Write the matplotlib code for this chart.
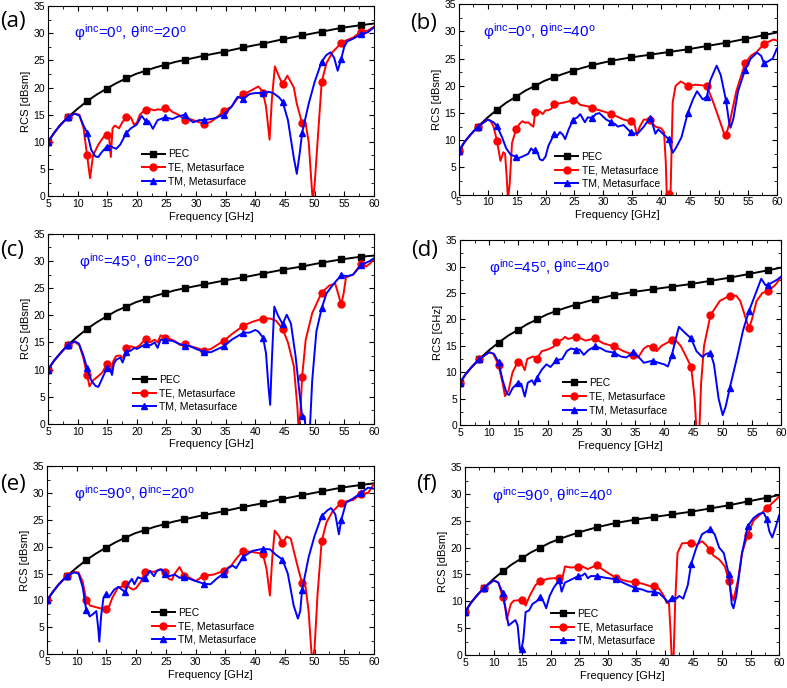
import matplotlib
matplotlib.use("Agg")
import matplotlib.pyplot as plt
import numpy as np

plt.rcParams['font.family'] = ['Liberation Sans', 'DejaVu Sans']
plt.rcParams['mathtext.fontset'] = 'custom'
plt.rcParams['mathtext.rm'] = 'Liberation Sans'
plt.rcParams['mathtext.it'] = 'Liberation Sans:italic'

# frequencies where the symbols sit (every 3.3 GHz)
f_mark = [5, 8.3, 11.6, 14.9, 18.2, 21.5, 24.8, 28.1, 31.4, 34.7, 38.0, 41.3,
          44.6, 47.9, 51.2, 54.5, 57.8]

# ---- PEC references (freq GHz, RCS dBsm)
pec_20 = [(5, 10.0), (6, 11.6), (7, 13.0), (8.3, 14.5), (10, 16.1), (11.6, 17.5), (13.2, 18.7),
          (14.9, 19.8), (16.5, 20.8), (18.2, 21.7), (19.8, 22.5), (21.5, 23.1), (23.1, 23.7),
          (24.8, 24.2), (26.4, 24.7), (28.1, 25.1), (31.4, 25.9), (34.7, 26.6), (38.0, 27.4),
          (41.3, 28.1), (44.6, 28.9), (47.9, 29.6), (51.2, 30.3), (54.5, 31.0), (57.8, 31.5), (60, 31.8)]
pec_c = [(5, 10.0), (6, 11.6), (7, 12.9), (8.3, 14.5), (10, 16.1), (11.6, 17.5), (13.2, 18.7),
         (14.9, 19.8), (16.5, 20.8), (18.2, 21.6), (19.8, 22.4), (21.5, 23.0), (23.1, 23.6),
         (24.8, 24.1), (26.4, 24.6), (28.1, 25.0), (31.4, 25.7), (34.7, 26.4), (38.0, 27.0),
         (41.3, 27.7), (44.6, 28.4), (47.9, 29.0), (51.2, 29.7), (54.5, 30.3), (57.8, 30.8), (60, 31.0)]
pec_40 = [(5, 8.0), (6, 9.7), (7, 11.0), (8.3, 12.5), (10, 14.2), (11.6, 15.6), (13.2, 16.9),
          (14.9, 18.0), (16.5, 19.1), (18.2, 20.0), (19.8, 20.9), (21.5, 21.6), (23.1, 22.2),
          (24.8, 22.8), (26.4, 23.3), (28.1, 23.8), (31.4, 24.6), (34.7, 25.2), (38.0, 25.7),
          (41.3, 26.2), (44.6, 26.7), (47.9, 27.3), (51.2, 27.9), (54.5, 28.6), (57.8, 29.3), (60, 29.8)]

# ---- (a) phi=0, theta=20
te_a = [(5, 10.0), (6, 11.6), (7, 13.0), (8.3, 14.5), (9.5, 15.2), (10.3, 15.0), (11.0, 12.5), (11.6, 7.5),
        (12.1, 3.3), (12.6, 7.5), (13.5, 9.5), (14.3, 10.8), (14.9, 11.3), (15.3, 11.0), (15.6, 7.2),
        (15.9, 12.5), (16.3, 13.0), (17.0, 12.5), (17.5, 13.5), (18.2, 14.6), (19.0, 14.5), (19.5, 13.2),
        (20.0, 13.5), (20.5, 15.0), (21.0, 15.5), (21.5, 15.9), (22.0, 16.1), (23.0, 15.8), (23.5, 16.0),
        (24.0, 15.9), (24.8, 16.2), (25.5, 16.0), (26.0, 15.5), (27.0, 15.0), (28.1, 14.0), (29.0, 14.2),
        (30.0, 13.8), (31.4, 13.3), (32.5, 13.7), (33.5, 14.5), (34.7, 15.7), (36.0, 16.5), (37.0, 18.0),
        (38.0, 18.8), (39.0, 19.3), (40.5, 20.2), (41.0, 19.6), (41.3, 19.0), (41.8, 16.5), (42.4, 10.4),
        (42.8, 18.0), (43.3, 23.9), (44.0, 22.0), (44.6, 20.6), (45.4, 22.2), (46.5, 20.0), (47.0, 17.0),
        (47.9, 13.4), (48.5, 13.3), (49.0, 10.0), (49.5, 2.0), (49.7, -1.0), (50.0, 2.0), (50.5, 10.0),
        (51.2, 21.0), (52.0, 24.5), (53.0, 26.5), (54.5, 28.2), (55.5, 28.8), (56.5, 29.2), (57.8, 30.3),
        (59.0, 30.5), (60, 31.2)]
tm_a = [(5, 10.0), (6, 11.6), (7, 13.0), (8.3, 14.5), (9.5, 15.2), (10.3, 14.8), (11.0, 13.0), (11.6, 11.7),
        (12.3, 8.5), (13.0, 7.3), (13.5, 7.2), (14.0, 8.0), (14.9, 9.1), (15.5, 9.2), (16.5, 8.7), (17.2, 9.5),
        (18.2, 11.6), (19.0, 12.5), (20.0, 13.2), (20.8, 14.8), (21.5, 13.8), (22.0, 13.8), (22.7, 12.4),
        (23.5, 14.0), (24.8, 14.5), (26.0, 14.2), (27.0, 14.7), (28.1, 15.0), (29.0, 14.0), (29.5, 13.6),
        (30.5, 14.0), (31.4, 14.0), (33.0, 14.3), (34.7, 15.0), (36.0, 16.5), (37.0, 18.3), (38.0, 17.9),
        (39.0, 18.8), (40.0, 19.0), (41.3, 19.0), (42.3, 19.2), (43.0, 19.0), (44.0, 18.2), (44.6, 17.4),
        (45.5, 14.0), (46.5, 7.0), (47.0, 4.1), (47.5, 8.0), (47.9, 11.7), (49.0, 17.0), (50.0, 21.0),
        (51.2, 24.8), (52.0, 26.0), (52.7, 26.5), (53.3, 25.5), (53.9, 23.1), (54.5, 25.3), (55.0, 27.5),
        (55.5, 28.5), (56.5, 29.0), (57.8, 29.8), (59.0, 30.2), (60, 31.1)]

# ---- (b) phi=0, theta=40
te_b = [(5, 8.0), (6, 9.7), (7, 11.0), (8.3, 12.5), (10, 13.8), (10.5, 13.6), (11.0, 12.5), (11.6, 9.9),
        (12.2, 6.2), (12.7, 7.8), (13.0, 7.5), (13.3, 3.0), (13.5, -1.0), (13.8, 2.0), (14.2, 9.5),
        (14.9, 12.0), (15.5, 13.0), (16.0, 13.5), (16.5, 13.2), (17.0, 13.3), (17.5, 12.8), (17.9, 12.5),
        (18.2, 15.1), (19.0, 15.3), (19.5, 14.8), (20.0, 15.5), (20.5, 15.5), (21.0, 15.8), (21.5, 16.7),
        (22.5, 16.8), (23.5, 17.0), (24.8, 17.4), (25.5, 17.0), (26.0, 16.5), (27.0, 16.3), (28.1, 16.0),
        (29.0, 15.6), (30.0, 15.3), (31.4, 14.8), (32.5, 14.3), (33.5, 13.8), (34.7, 13.5), (35.3, 13.5),
        (35.8, 10.9), (36.3, 12.5), (37.0, 13.8), (38.0, 13.8), (39.0, 12.5), (40.0, 12.2), (40.5, 11.5),
        (40.8, 6.0), (41.0, -1.0), (41.3, 0.2), (41.6, -1.0), (41.8, 8.0), (42.0, 17.0), (42.5, 20.0),
        (43.4, 20.8), (44.6, 20.0), (46.0, 20.2), (47.9, 20.0), (49.0, 17.0), (50.0, 14.0), (50.8, 11.5),
        (51.2, 11.0), (51.8, 13.0), (53.0, 19.0), (54.5, 24.1), (55.5, 25.5), (56.5, 26.2), (57.8, 27.7),
        (59.0, 28.3), (59.5, 28.5), (60, 28.3)]
tm_b = [(5, 8.0), (6, 9.7), (7, 11.0), (8.3, 12.5), (10, 13.8), (11.0, 13.3), (11.6, 12.6), (12.5, 10.5),
        (13.2, 8.5), (14.0, 7.3), (14.9, 7.0), (15.3, 6.7), (16.0, 7.0), (17.0, 7.5), (17.5, 8.5), (18.0, 8.0),
        (18.2, 8.2), (18.7, 7.5), (19.0, 6.5), (19.5, 6.3), (20.0, 7.0), (20.5, 9.0), (21.5, 11.1),
        (22.0, 10.8), (22.5, 11.5), (23.0, 11.0), (23.4, 10.2), (24.0, 12.0), (24.8, 13.8), (25.5, 14.2),
        (26.0, 14.8), (26.8, 13.3), (27.3, 14.2), (28.1, 14.1), (28.7, 14.8), (29.3, 15.0), (29.8, 14.5),
        (30.5, 13.8), (31.4, 13.3), (32.0, 13.0), (32.5, 12.5), (33.5, 12.8), (34.7, 11.5), (35.5, 11.2),
        (36.0, 11.3), (37.0, 12.5), (38.0, 14.0), (38.5, 13.0), (39.0, 11.2), (39.5, 12.0), (40.0, 11.5),
        (40.5, 11.0), (41.3, 10.2), (41.6, 9.0), (42.0, 7.7), (42.5, 8.5), (43.5, 10.5), (44.6, 15.0),
        (45.5, 17.5), (46.2, 19.0), (47.2, 17.5), (47.9, 18.0), (48.5, 21.0), (49.6, 23.7), (50.3, 22.0),
        (51.2, 17.4), (51.8, 13.0), (52.0, 12.3), (52.5, 14.0), (53.3, 19.0), (54.5, 22.9), (55.5, 25.0),
        (56.6, 26.1), (57.3, 25.5), (57.8, 24.1), (58.5, 24.5), (59.3, 25.0), (60, 26.8)]

# ---- (c) phi=45, theta=20
te_c = [(5, 10.0), (6, 11.6), (7, 12.9), (8.3, 14.5), (9.5, 15.1), (10.3, 14.5), (11.0, 12.0), (11.6, 9.0),
        (12.0, 6.9), (12.6, 8.0), (13.5, 8.8), (14.2, 9.5), (14.9, 11.0), (15.4, 10.3), (15.7, 9.8),
        (16.0, 11.5), (16.5, 12.5), (17.2, 12.6), (17.8, 12.0), (18.2, 13.9), (19.0, 14.3), (19.8, 14.0),
        (20.5, 14.5), (21.5, 15.7), (22.2, 15.0), (23.0, 15.5), (23.5, 15.0), (24.0, 16.3), (24.8, 15.9),
        (25.5, 15.7), (26.5, 15.2), (27.3, 14.5), (28.1, 14.7), (29.0, 14.3), (30.0, 14.0), (31.4, 13.5),
        (32.5, 13.8), (33.5, 14.5), (34.7, 15.3), (36.0, 16.5), (38.0, 18.1), (39.5, 18.8), (41.3, 19.4),
        (42.5, 19.4), (43.5, 19.0), (44.6, 17.5), (45.5, 15.0), (46.5, 10.6), (47.1, 3.0), (47.3, -1.0),
        (47.6, 2.0), (47.9, 8.7), (48.5, 15.5), (49.6, 20.4), (51.2, 24.2), (52.5, 25.5), (53.5, 25.8),
        (54.1, 23.5), (54.5, 22.0), (54.9, 24.0), (55.3, 27.0), (56.5, 27.5), (57.8, 29.4), (58.7, 29.0),
        (59.3, 29.5), (60, 30.3)]
tm_c = [(5, 10.0), (6, 11.6), (7, 12.9), (8.3, 14.5), (9.5, 15.2), (10.2, 14.8), (11.0, 12.5), (11.6, 10.2),
        (12.3, 8.0), (13.0, 7.0), (13.5, 6.8), (14.0, 8.0), (14.9, 10.2), (15.5, 10.0), (15.8, 9.0),
        (16.1, 11.0), (16.5, 11.8), (17.2, 12.2), (17.6, 11.3), (18.2, 13.2), (19.0, 13.5), (19.6, 14.0),
        (20.0, 13.8), (21.5, 14.7), (22.3, 14.5), (23.0, 15.0), (23.5, 14.0), (24.0, 15.5), (24.8, 15.4),
        (26.0, 15.3), (27.0, 14.8), (28.1, 14.4), (29.0, 14.3), (30.0, 13.8), (31.4, 13.2), (32.5, 13.2),
        (33.5, 13.7), (34.7, 14.3), (36.0, 15.5), (38.0, 16.8), (39.0, 16.8), (40.0, 17.3), (40.5, 17.0),
        (41.3, 15.9), (41.8, 13.0), (42.2, 7.0), (42.5, 3.5), (42.8, 12.0), (43.2, 21.6), (43.8, 20.0),
        (44.6, 18.4), (45.3, 20.1), (46.0, 18.5), (46.8, 12.4), (47.4, 6.2), (47.9, 1.4), (48.3, 1.4),
        (48.5, -1.0), (49.2, -1.0), (49.6, 8.0), (50.3, 17.0), (51.2, 21.3), (52.0, 24.0), (53.0, 25.5),
        (54.5, 27.4), (55.5, 27.2), (56.5, 27.5), (57.8, 29.2), (58.5, 29.6), (59.3, 30.0), (60, 30.5)]

# ---- (d) phi=45, theta=40
te_d = [(5, 8.0), (6, 9.7), (7, 11.0), (8.3, 12.5), (10, 13.8), (10.7, 13.5), (11.6, 11.4), (12.3, 8.0),
        (12.7, 5.5), (13.3, 6.5), (14.0, 10.0), (14.9, 12.0), (15.5, 11.8), (16.1, 10.4), (16.5, 12.5),
        (17.5, 13.0), (18.2, 12.6), (19.0, 14.0), (20.0, 14.3), (21.0, 14.8), (21.5, 15.8), (22.5, 16.2),
        (23.0, 16.7), (23.5, 16.3), (24.8, 16.7), (25.5, 16.5), (26.5, 16.0), (28.1, 16.4), (29.5, 15.5),
        (31.4, 14.9), (33.0, 14.0), (34.7, 13.3), (35.5, 12.8), (36.5, 14.5), (37.2, 15.0), (38.0, 14.7),
        (38.7, 14.0), (39.5, 15.0), (40.5, 15.6), (41.3, 16.1), (42.0, 16.0), (42.8, 15.0), (43.5, 13.5),
        (44.6, 11.0), (45.2, 5.0), (45.5, -1.0), (46.0, -1.0), (46.3, 8.0), (46.8, 15.0), (47.9, 20.8),
        (49.5, 23.5), (51.2, 24.5), (52.3, 24.5), (53.0, 23.5), (54.0, 20.0), (54.5, 18.3), (55.0, 20.0),
        (55.8, 23.5), (56.8, 25.0), (57.8, 25.4), (59.0, 26.5), (60, 28.0)]
tm_d = [(5, 8.0), (6, 9.7), (7, 11.0), (8.3, 12.5), (10, 13.8), (10.8, 13.5), (11.6, 11.9), (12.3, 8.5),
        (13.0, 6.0), (13.4, 5.7), (14.0, 7.0), (14.9, 8.0), (15.5, 7.8), (16.1, 5.4), (16.6, 8.0),
        (17.3, 8.5), (17.8, 7.6), (18.2, 9.0), (19.0, 10.5), (19.8, 11.5), (20.5, 11.0), (21.5, 12.3),
        (22.5, 12.5), (23.3, 14.0), (24.0, 14.5), (24.8, 14.3), (25.5, 14.3), (26.2, 13.3), (27.0, 14.2),
        (28.1, 14.9), (29.0, 14.6), (30.0, 14.0), (31.4, 13.7), (32.5, 13.0), (33.5, 12.8), (34.7, 13.8),
        (35.5, 13.0), (36.5, 11.8), (38.0, 12.2), (39.0, 11.8), (40.0, 11.5), (40.6, 11.1), (41.3, 13.3),
        (42.0, 16.5), (42.5, 18.6), (43.5, 17.5), (44.6, 16.4), (45.5, 14.0), (46.5, 12.9), (47.2, 13.5),
        (47.9, 13.7), (48.5, 11.5), (49.3, 5.0), (50.0, 1.9), (50.5, 3.5), (51.2, 7.0), (52.5, 13.0),
        (53.5, 18.0), (54.5, 21.6), (55.5, 24.5), (56.6, 27.7), (57.3, 26.5), (57.8, 26.6), (58.5, 27.0),
        (59.3, 27.5), (60, 28.1)]

# ---- (e) phi=90, theta=20
te_e = [(5, 10.0), (6, 11.6), (7, 13.0), (8.3, 14.5), (9.5, 15.3), (10.3, 15.2), (11.0, 13.5), (11.6, 10.0),
        (12.3, 9.0), (13.0, 8.8), (14.0, 8.5), (14.9, 8.4), (15.5, 9.0), (16.0, 10.5), (17.0, 12.5),
        (17.5, 12.5), (18.2, 13.0), (19.0, 12.3), (19.5, 12.0), (20.0, 12.3), (20.8, 13.5), (21.5, 15.3),
        (22.0, 15.5), (23.0, 15.3), (24.0, 15.8), (24.8, 15.2), (25.5, 14.0), (26.0, 13.8), (26.5, 15.0),
        (27.3, 16.2), (28.1, 14.5), (29.0, 14.2), (30.0, 13.6), (31.4, 14.6), (33.0, 14.8), (34.7, 15.5),
        (36.0, 16.5), (37.0, 18.0), (38.0, 19.2), (39.5, 19.0), (41.3, 18.7), (41.9, 16.0), (42.5, 10.9),
        (42.9, 18.0), (43.3, 23.0), (44.0, 22.0), (44.6, 20.6), (45.3, 21.9), (46.0, 21.5), (47.0, 17.0),
        (47.9, 13.2), (48.5, 12.5), (49.0, 8.0), (49.5, 0.0), (49.7, -1.0), (50.0, 1.0), (50.5, 11.0),
        (51.2, 21.0), (52.0, 24.5), (53.0, 26.5), (54.5, 28.2), (55.5, 28.5), (56.5, 28.7), (57.8, 29.8),
        (59.0, 30.0), (60, 31.7)]
tm_e = [(5, 10.0), (6, 11.6), (7, 13.0), (8.3, 14.5), (9.5, 15.2), (10.3, 15.0), (11.0, 12.5), (11.6, 8.2),
        (12.2, 7.0), (12.8, 7.5), (13.3, 8.0), (13.6, 5.0), (13.8, 2.3), (14.1, 7.0), (14.5, 10.5),
        (14.9, 11.1), (15.5, 10.7), (16.3, 12.0), (17.0, 12.5), (17.6, 12.0), (18.2, 11.5), (18.6, 13.0),
        (19.3, 14.0), (19.7, 13.0), (20.3, 14.3), (21.0, 14.0), (21.5, 14.2), (22.3, 15.5), (23.0, 14.5),
        (23.5, 15.5), (24.3, 15.8), (24.8, 14.9), (25.5, 14.5), (26.5, 14.8), (27.3, 14.2), (28.1, 14.3),
        (29.0, 14.0), (30.0, 13.6), (31.4, 13.1), (32.5, 13.0), (33.5, 14.0), (34.7, 15.0), (35.5, 16.0),
        (36.2, 16.5), (36.8, 16.0), (38.0, 18.1), (39.5, 19.2), (41.3, 19.6), (42.5, 19.5), (43.5, 18.5),
        (44.6, 17.6), (45.5, 15.0), (46.5, 9.0), (47.2, 6.6), (47.6, 8.0), (47.9, 11.9), (49.0, 18.0),
        (50.0, 22.0), (51.2, 25.7), (52.2, 26.8), (52.8, 27.2), (53.5, 26.0), (54.1, 22.3), (54.5, 25.0),
        (55.3, 28.2), (56.5, 29.0), (57.8, 30.0), (59.0, 31.0), (60, 30.8)]

# ---- (f) phi=90, theta=40
te_f = [(5, 8.0), (6, 9.7), (7, 11.0), (8.3, 12.5), (10, 13.9), (10.8, 13.5), (11.6, 10.8), (12.0, 9.0),
        (12.3, 6.6), (13.0, 9.5), (13.5, 10.1), (14.3, 10.2), (14.9, 10.2), (15.3, 9.8), (15.6, 9.2),
        (16.3, 11.0), (17.3, 13.0), (18.2, 13.8), (19.5, 14.2), (20.5, 14.3), (21.5, 14.4), (22.0, 14.2),
        (22.5, 16.5), (23.5, 16.3), (24.8, 16.4), (25.5, 16.5), (26.5, 16.0), (27.5, 16.5), (28.1, 16.7),
        (29.0, 16.0), (30.0, 15.3), (31.4, 14.4), (32.5, 14.0), (33.5, 13.7), (34.7, 13.6), (36.0, 13.3),
        (37.5, 12.8), (38.0, 12.8), (39.0, 12.3), (39.8, 11.0), (40.3, 9.7), (40.7, 9.8), (41.0, 4.0),
        (41.2, -1.0), (41.5, -1.0), (41.8, 10.0), (42.2, 19.0), (43.0, 20.8), (44.6, 20.9), (45.5, 20.5),
        (46.5, 21.2), (47.2, 20.5), (47.9, 19.6), (48.5, 18.5), (49.5, 17.8), (50.5, 16.5), (51.2, 13.8),
        (51.6, 11.5), (52.0, 10.2), (52.8, 14.0), (53.5, 19.0), (54.5, 22.4), (55.5, 25.0), (56.5, 26.0),
        (57.8, 27.3), (59.0, 28.5), (60, 29.5)]
tm_f = [(5, 8.0), (6, 9.7), (7, 11.0), (8.3, 12.5), (10, 13.9), (10.8, 13.5), (11.6, 11.5), (12.2, 8.0),
        (12.6, 5.5), (13.2, 6.0), (13.8, 6.5), (14.2, 5.5), (14.6, 1.0), (14.9, 1.2), (15.2, 3.0), (15.6, 8.0),
        (16.2, 8.3), (16.8, 9.5), (17.5, 10.0), (18.2, 10.8), (18.8, 9.8), (19.2, 8.7), (19.8, 11.0),
        (20.5, 12.5), (21.5, 14.0), (21.9, 11.8), (22.5, 13.5), (23.5, 14.0), (24.8, 14.7), (25.5, 14.8),
        (26.0, 15.2), (26.5, 14.3), (27.0, 14.7), (28.1, 14.7), (29.5, 14.4), (31.4, 14.1), (33.0, 13.3),
        (34.7, 12.5), (36.0, 12.2), (37.0, 11.8), (38.0, 11.8), (39.0, 11.5), (40.0, 10.5), (40.5, 9.8),
        (41.3, 10.7), (42.0, 10.5), (42.5, 11.0), (43.2, 10.5), (44.0, 13.0), (44.6, 17.0), (45.5, 20.0),
        (46.5, 22.5), (47.9, 23.4), (48.7, 22.5), (49.5, 20.0), (50.3, 19.0), (51.2, 15.0), (51.7, 9.5),
        (52.0, 8.7), (52.5, 11.0), (53.5, 19.0), (54.5, 24.0), (55.5, 25.5), (56.5, 26.3), (57.3, 26.5),
        (57.8, 25.4), (58.3, 23.0), (58.8, 21.9), (59.3, 23.5), (60, 26.0)]

panels = [
    # label, axes rect, phi, theta, pec, te, tm, ylabel, annotation xy, legend anchor, label xy
    ('(a)', [0.061, 0.715, 0.414, 0.276], 0, 20, pec_20, te_a, tm_a, 'RCS [dBsm]', (0.08, 0.86), (0.288, 0.05), (0.0, 0.969)),
    ('(b)', [0.583, 0.717, 0.404, 0.277], 0, 40, pec_40, te_b, tm_b, 'RCS [dBsm]', (0.075, 0.855), (0.304, 0.03), (0.521, 0.966)),
    ('(c)', [0.061, 0.384, 0.414, 0.276], 45, 20, pec_c, te_c, tm_c, 'RCS [dBsm]', (0.094, 0.854), (0.26, 0.063), (0.0, 0.636)),
    ('(d)', [0.5845, 0.382, 0.408, 0.269], 45, 40, pec_40, te_d, tm_d, 'RCS [GHz]', (0.09, 0.85), (0.32, 0.054), (0.523, 0.636)),
    ('(e)', [0.0597, 0.0494, 0.4155, 0.273], 90, 20, pec_20, te_e, tm_e, 'RCS [dBsm]', (0.083, 0.856), (0.32, 0.048), (0.0, 0.296)),
    ('(f)', [0.591, 0.048, 0.399, 0.273], 90, 40, pec_40, te_f, tm_f, 'RCS [dBsm]', (0.085, 0.847), (0.274, 0.048), (0.529, 0.296)),
]


def mark_idx(f):
    return [i for i, x in enumerate(f) if any(abs(x - m) < 1e-6 for m in f_mark)]


fig = plt.figure(figsize=(7.87, 6.88), dpi=100)

for lab, rect, phi, theta, pec, te, tm, ylab, ann, leg, labxy in panels:
    ax = fig.add_axes(rect)
    for data, col, mk, ms, name in [(pec, 'black', 's', 4.0, 'PEC'),
                                     (te, 'red', 'o', 5.0, 'TE, Metasurface'),
                                     (tm, 'blue', '^', 5.0, 'TM, Metasurface')]:
        f = np.array([p[0] for p in data])
        v = np.array([p[1] for p in data])
        ax.plot(f, v, color=col, lw=1.4, marker=mk, ms=ms, markevery=mark_idx(f), label=name)
    ax.set_xlim(5, 60)
    ax.set_ylim(0, 35)
    ax.set_xticks(np.arange(5, 61, 5))
    ax.set_yticks(np.arange(0, 36, 5))
    ax.set_xticks(np.arange(7.5, 60, 5), minor=True)
    ax.set_yticks(np.arange(2.5, 35, 5), minor=True)
    ax.tick_params(which='both', direction='in', top=True, right=True, labelsize=7.5, pad=2)
    ax.tick_params(which='major', length=3.5, width=0.8)
    ax.tick_params(which='minor', length=2, width=0.6)
    for s in ax.spines.values():
        s.set_linewidth(0.8)
    ax.set_xlabel('Frequency [GHz]', fontsize=8, labelpad=2)
    ax.set_ylabel(ylab, fontsize=8, labelpad=2)
    txt = r'φ$^{\rm inc}$=%d$^{\rm o}$, θ$^{\rm inc}$=%d$^{\rm o}$' % (phi, theta)
    ax.text(ann[0], ann[1], txt, transform=ax.transAxes, color='blue', fontsize=11, va='center', ha='left')
    ax.legend(loc='lower left', bbox_to_anchor=leg, frameon=False, fontsize=7.5,
              handlelength=2.2, handletextpad=0.3, labelspacing=0.35, borderpad=0, borderaxespad=0)
    fig.text(labxy[0], labxy[1], lab, fontsize=16, family=['Open Sans', 'DejaVu Sans'], va='center', ha='left')

fig.savefig('out.png', dpi=100)
